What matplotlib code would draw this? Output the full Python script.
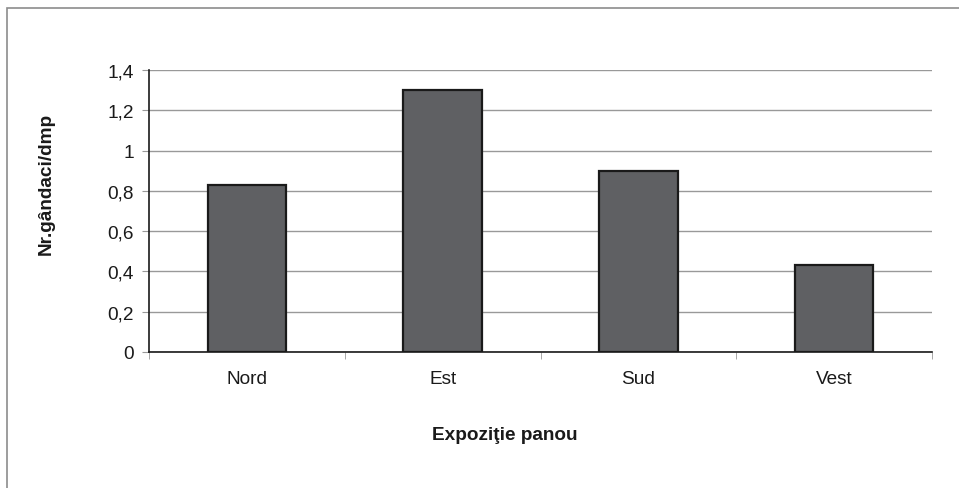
import matplotlib
matplotlib.use("Agg")
import matplotlib.pyplot as plt
from matplotlib.patches import Rectangle
from matplotlib.ticker import FixedLocator, FuncFormatter

categories = ["Nord", "Est", "Sud", "Vest"]
values = [0.83, 1.30, 0.90, 0.43]
y_ticks = [0, 0.2, 0.4, 0.6, 0.8, 1.0, 1.2, 1.4]

plt.rcParams["font.family"] = ["Liberation Sans", "DejaVu Sans"]

W, H = 959, 489
FS = 13.7
fig = plt.figure(figsize=(W / 100, H / 100), dpi=100)

# chart frame (extends past right/bottom edges)
fig.patches.append(Rectangle((7 / W, -0.1), 1.2, 1.1 - 9 / H,
                             transform=fig.transFigure, fill=False,
                             edgecolor="#8c8c8c", linewidth=1.2))

left, right, top, bottom = 149, 932, 71, 353
ax = fig.add_axes([left / W, 1 - bottom / H, (right - left) / W, (bottom - top) / H])

x = list(range(len(categories)))
ax.bar(x, values, width=0.4, color="#5f6063", edgecolor="#1a1a1a",
       linewidth=1.6, zorder=3)

ax.set_xlim(-0.5, len(categories) - 0.5)
ax.set_ylim(0, 1.4)
ax.set_yticks(y_ticks)
ax.yaxis.set_major_formatter(FuncFormatter(lambda v, p: f"{v:g}".replace(".", ",")))
ax.yaxis.grid(True, color="#999999", linewidth=1.0, zorder=0)

ax.set_xticks(x)
ax.set_xticklabels(categories)
ax.xaxis.set_minor_locator(FixedLocator([i - 0.5 for i in range(len(categories) + 1)]))
ax.tick_params(axis="x", which="major", length=0, pad=13, labelsize=FS, colors="#1a1a1a")
ax.tick_params(axis="x", which="minor", length=5, color="#999999", direction="out")
ax.tick_params(axis="y", length=5, color="#999999", pad=6, labelsize=FS, labelcolor="#1a1a1a")

for s in ["top", "right"]:
    ax.spines[s].set_visible(False)
ax.spines["left"].set_color("#1a1a1a")
ax.spines["bottom"].set_color("#1a1a1a")
ax.spines["left"].set_linewidth(1.2)
ax.spines["bottom"].set_linewidth(1.2)

fig.text(46 / W, 1 - 184 / H, "Nr.gândaci/dmp", rotation=90, ha="center", va="center",
         fontsize=FS, fontweight="bold", color="#1a1a1a")
fig.text(505 / W, 1 - 436 / H, "Expoziţie panou", ha="center", va="center",
         fontsize=FS, fontweight="bold", color="#1a1a1a")

fig.savefig("out.png", dpi=100)
